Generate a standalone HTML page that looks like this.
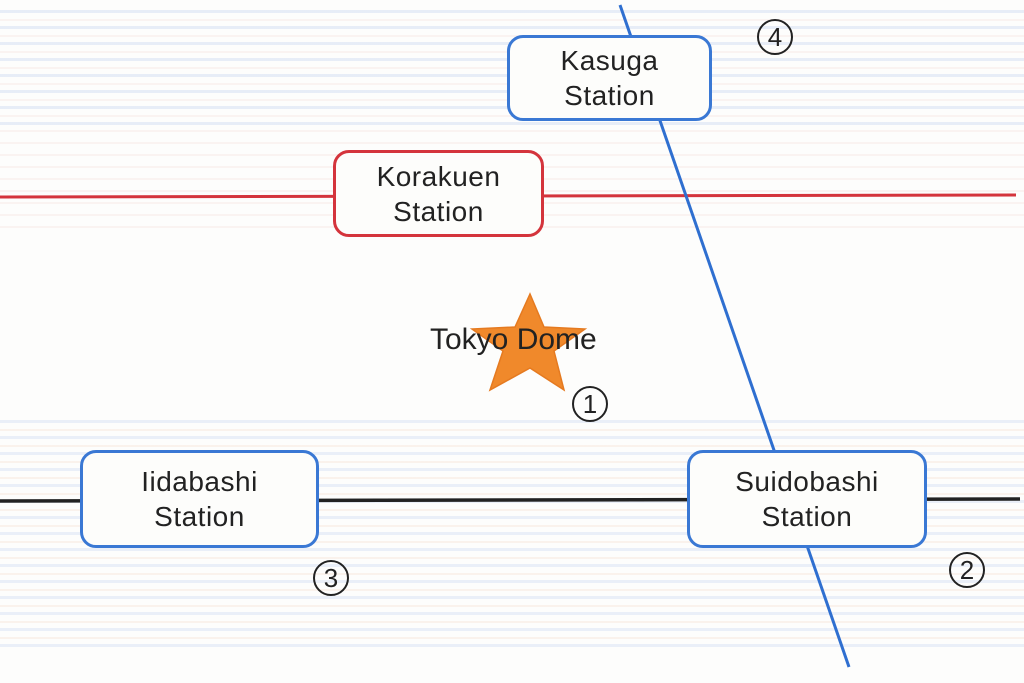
<!DOCTYPE html>
<html><head><meta charset="utf-8"><style>
html,body{margin:0;padding:0;background:#fdfdfc;}
body{width:1024px;height:683px;overflow:hidden;position:relative;font-family:"Liberation Sans","DejaVu Sans",sans-serif;}
.band{position:absolute;left:0;width:1024px;opacity:.55;}
.box{position:absolute;background:#fdfdfb;border:3px solid #3a78d4;border-radius:16px;box-sizing:border-box;display:flex;align-items:center;justify-content:center;text-align:center;font-size:28px;line-height:35px;color:#222;letter-spacing:0.5px;}
.num{position:absolute;width:36px;height:36px;border:2px solid #222;border-radius:50%;box-sizing:border-box;text-align:center;line-height:33px;font-size:26px;color:#222;}
</style></head><body>
<div class="band" style="top:10px;height:120px;background:repeating-linear-gradient(180deg,rgba(140,170,225,.35) 0 3px,rgba(255,255,255,0) 3px 9px,rgba(230,160,150,.2) 9px 11px,rgba(255,255,255,0) 11px 16px);"></div>
<div class="band" style="top:130px;height:100px;background:repeating-linear-gradient(180deg,rgba(230,160,150,.2) 0 2px,rgba(255,255,255,0) 2px 12px);"></div>
<div class="band" style="top:420px;height:230px;background:repeating-linear-gradient(180deg,rgba(140,170,225,.3) 0 3px,rgba(255,255,255,0) 3px 9px,rgba(235,175,140,.25) 9px 11px,rgba(255,255,255,0) 11px 16px);"></div>
<svg width="1024" height="683" style="position:absolute;left:0;top:0">
<line x1="0" y1="197" x2="1016" y2="195" stroke="#d4343c" stroke-width="3"/>
<line x1="0" y1="501" x2="1020" y2="499" stroke="#222" stroke-width="3.5"/>
<line x1="620" y1="5" x2="849" y2="667" stroke="#2f6fd0" stroke-width="3"/>
<polygon points="530,294 544,327 585,329 554,351 564,390 530,368 490,390 503,351 472,329 515,327" fill="#f0892b" stroke="#e57a20" stroke-width="1.5"/>
</svg>
<div class="box" style="left:507px;top:35px;width:205px;height:86px;">Kasuga<br>Station</div>
<div class="box" style="left:333px;top:150px;width:211px;height:87px;border-color:#d4343c;">Korakuen<br>Station</div>
<div class="box" style="left:80px;top:450px;width:239px;height:98px;">Iidabashi<br>Station</div>
<div class="box" style="left:687px;top:450px;width:240px;height:98px;">Suidobashi<br>Station</div>
<div style="position:absolute;left:430px;top:323px;font-size:30px;color:#222;">Tokyo Dome</div>
<div class="num" style="left:572px;top:386px;">1</div>
<div class="num" style="left:949px;top:552px;">2</div>
<div class="num" style="left:313px;top:560px;">3</div>
<div class="num" style="left:757px;top:19px;">4</div>
</body></html>
